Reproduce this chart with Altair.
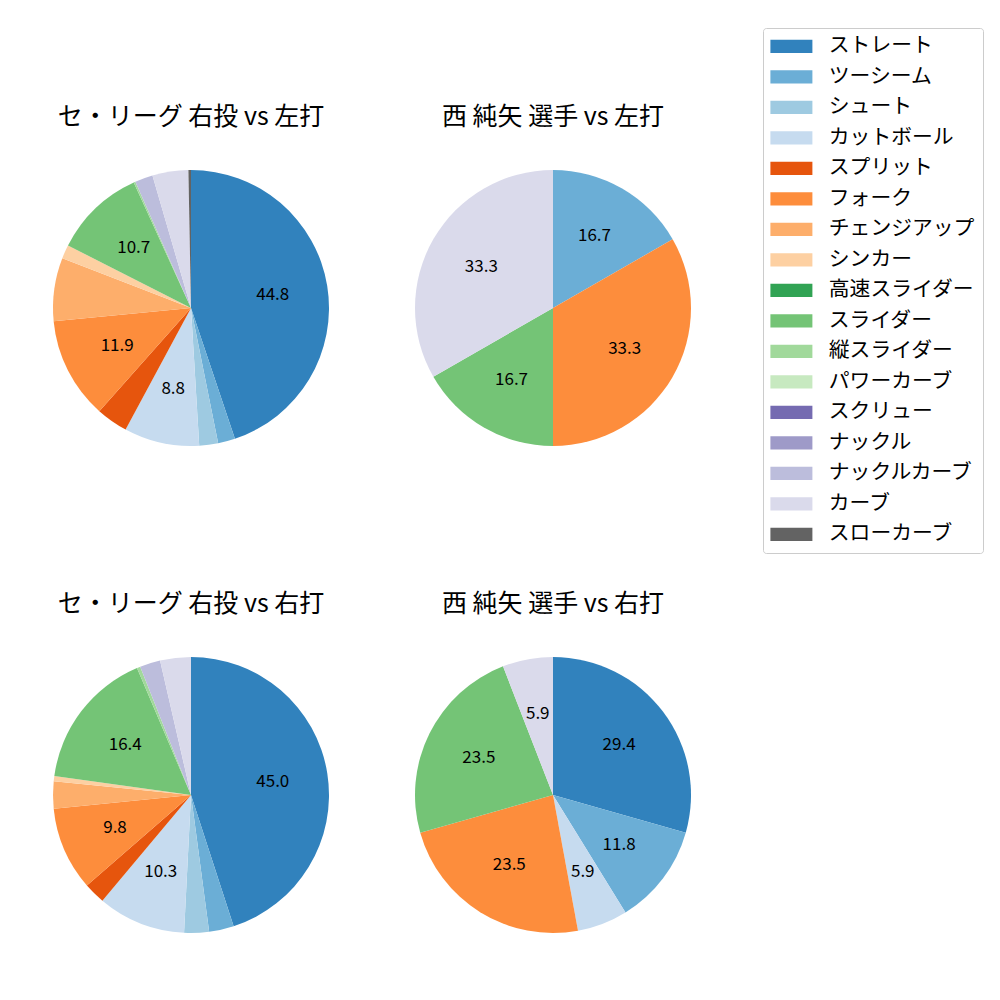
import altair as alt
import pandas as pd

pitch_types = ["ストレート", "ツーシーム", "シュート", "カットボール", "スプリット", "フォーク",
               "チェンジアップ", "シンカー", "高速スライダー", "スライダー", "縦スライダー",
               "パワーカーブ", "スクリュー", "ナックル", "ナックルカーブ", "カーブ", "スローカーブ"]
colors = ["#3182bd", "#6baed6", "#9ecae1", "#c6dbef", "#e6550d", "#fd8d3c", "#fdae6b", "#fdd0a2",
          "#31a354", "#74c476", "#a1d99b", "#c7e9c0", "#756bb1", "#9e9ac8", "#bcbddc", "#dadaeb",
          "#636363"]

pie_titles = ["セ・リーグ 右投 vs 左打", "西 純矢 選手 vs 左打",
              "セ・リーグ 右投 vs 右打", "西 純矢 選手 vs 右打"]
league_vs_left = [44.8, 2.0, 2.2, 8.8, 3.7, 11.9, 7.4, 1.6, 0, 10.7, 0.2, 0, 0, 0, 2.1, 4.2, 0.3]
player_vs_left = [0, 16.7, 0, 0, 0, 33.3, 0, 0, 0, 16.7, 0, 0, 0, 0, 0, 33.3, 0]
league_vs_right = [45.0, 2.9, 2.9, 10.3, 2.5, 9.8, 3.2, 0.6, 0, 16.4, 0.4, 0, 0, 0, 2.4, 3.6, 0]
player_vs_right = [29.4, 11.8, 0, 5.9, 0, 23.5, 0, 0, 0, 23.5, 0, 0, 0, 0, 0, 5.9, 0]
label_min = [8.0, 5.0, 8.0, 5.0]

FONT = "Noto Sans CJK JP"
R = 138

color_scale = alt.Scale(domain=pitch_types, range=colors)
legend = alt.Legend(
    title=None, orient="none", legendX=710, legendY=-142,
    symbolType="M-3.13,-1H3.13V1H-3.13Z", symbolSize=180, symbolStrokeWidth=0,
    symbolOpacity=1, symbolOffset=10, labelOffset=27,
    labelFont=FONT, labelFontSize=20.8, labelColor="#000000", labelLimit=300,
    rowPadding=8.5, padding=8, strokeColor="#cccccc", fillColor="#ffffff",
    cornerRadius=3,
)


def pie(title, values, min_label):
    df = pd.DataFrame({"pitch": pitch_types, "pct": values, "idx": list(range(len(pitch_types)))})
    df = df[df["pct"] > 0].copy()
    df["label"] = [f"{v:.1f}" if v >= min_label else "" for v in df["pct"]]
    base = alt.Chart(df).encode(
        theta=alt.Theta("pct:Q", stack=True),
        order=alt.Order("idx:Q", sort="ascending"),
    )
    arcs = base.mark_arc(outerRadius=R, strokeWidth=0).encode(
        color=alt.Color("pitch:N", scale=color_scale, legend=legend, sort=pitch_types)
    )
    text = base.mark_text(radius=0.6 * R, font=FONT, fontSize=17, color="#000000").encode(
        text="label:N"
    )
    return alt.layer(arcs, text).properties(
        width=2 * R, height=2 * R,
        title=alt.TitleParams(title, font=FONT, fontSize=25, fontWeight="normal",
                              anchor="middle", offset=40, color="#000000"),
    )


top = alt.hconcat(pie(pie_titles[0], league_vs_left, label_min[0]),
                  pie(pie_titles[1], player_vs_left, label_min[1]), spacing=86)
bottom = alt.hconcat(pie(pie_titles[2], league_vs_right, label_min[2]),
                     pie(pie_titles[3], player_vs_right, label_min[3]), spacing=86)

chart = alt.vconcat(top, bottom, spacing=146).properties(
    padding={"left": 53, "top": 27, "right": 5, "bottom": 5}
).configure_view(strokeWidth=0).configure(background="#ffffff")

chart.save("out.html", embed_options={"renderer": "svg", "actions": False})
